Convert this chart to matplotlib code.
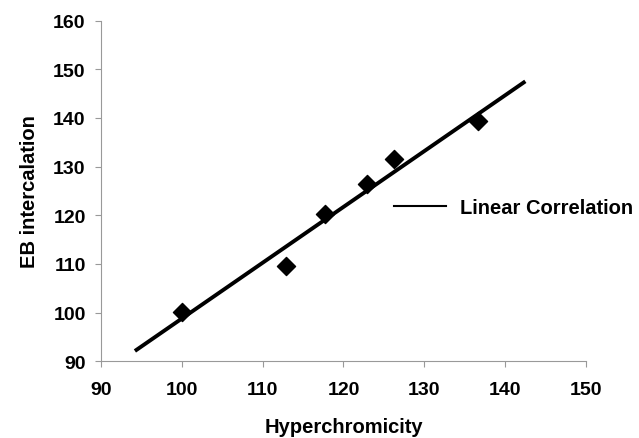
import matplotlib.pyplot as plt
from matplotlib.lines import Line2D

# data
hyperchromicity = [100, 112.9, 117.7, 122.9, 126.2, 136.7]
eb_intercalation = [100.2, 109.5, 120.3, 126.4, 131.6, 139.4]

# end points of the drawn linear correlation line
fit_x = [94.2, 142.5]
fit_y = [92.1, 147.5]

x_ticks = [90, 100, 110, 120, 130, 140, 150]
y_ticks = [90, 100, 110, 120, 130, 140, 150, 160]

plt.rcParams['font.family'] = ['Liberation Sans', 'DejaVu Sans']
plt.rcParams['font.weight'] = 'bold'

fig = plt.figure(figsize=(6.39, 4.39), dpi=100)
ax = fig.add_axes([0.158, 0.175, 0.759, 0.776])

ax.scatter(hyperchromicity, eb_intercalation, marker='D', s=85, color='black', zorder=3)
ax.plot(fit_x, fit_y, color='black', linewidth=2.8, solid_capstyle='butt')

ax.set_xlim(90, 150)
ax.set_ylim(90, 160)
ax.set_xticks(x_ticks)
ax.set_yticks(y_ticks)

for side in ['top', 'right']:
    ax.spines[side].set_visible(False)
for side in ['left', 'bottom']:
    ax.spines[side].set_color('#999999')
    ax.spines[side].set_linewidth(0.8)

ax.tick_params(axis='both', direction='out', length=4, width=0.8, color='#999999',
               labelsize=14, pad=10)
ax.tick_params(axis='y', pad=7)
for lbl in ax.get_xticklabels() + ax.get_yticklabels():
    lbl.set_fontweight('bold')

ax.set_xlabel('Hyperchromicity', fontsize=14.5, fontweight='bold', labelpad=14)
ax.set_ylabel('EB intercalation', fontsize=14.5, fontweight='bold', labelpad=10)

# legend only shows the fitted line, drawn thinner like the original
handle = Line2D([], [], color='black', linewidth=1.5)
ax.legend([handle], ['Linear Correlation'], loc='center left',
          bbox_to_anchor=(0.588, 0.526), bbox_transform=fig.transFigure,
          frameon=False, handlelength=2.6, handletextpad=0.7,
          prop={'size': 14.5, 'weight': 'bold'})

fig.savefig('out.png', dpi=100)
